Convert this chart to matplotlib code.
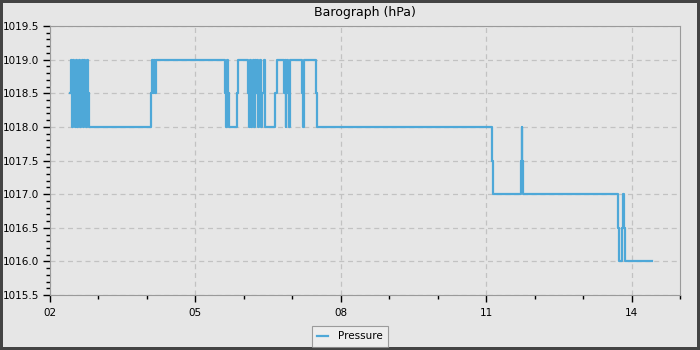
import matplotlib
matplotlib.use("Agg")
import matplotlib.pyplot as plt
import matplotlib.dates as mdates
from matplotlib.ticker import MultipleLocator
import pandas as pd

# readings: hour of day (decimal) and pressure in hPa
hours = [2.41, 2.43, 2.45, 2.47, 2.49, 2.52, 2.54, 2.56, 2.58, 2.60,
         2.62, 2.64, 2.66, 2.68, 2.70, 2.72, 2.74, 2.76, 2.78, 2.80,
         4.08, 4.10, 4.12, 4.14, 4.16, 4.18,
         5.61, 5.63, 5.65, 5.67, 5.69, 5.85, 5.87,
         6.08, 6.10, 6.12, 6.14, 6.16, 6.18, 6.20, 6.22, 6.24, 6.26,
         6.28, 6.30, 6.32, 6.34, 6.36, 6.38, 6.41, 6.43,
         6.65, 6.68,
         6.82, 6.84, 6.86, 6.88, 6.90, 6.92, 6.94, 6.96, 6.98,
         7.21, 7.23, 7.25, 7.48, 7.50,
         11.12, 11.14, 11.71, 11.73, 11.75, 11.76,
         13.73, 13.75, 13.80, 13.82, 13.84, 13.86, 14.42]
pressure = [1018.5, 1019.0, 1018.0, 1019.0, 1018.5, 1018.0, 1019.0, 1018.0, 1018.5, 1019.0,
            1018.0, 1018.5, 1019.0, 1018.0, 1019.0, 1018.5, 1018.0, 1019.0, 1018.5, 1018.0,
            1018.5, 1019.0, 1018.5, 1019.0, 1018.5, 1019.0,
            1018.5, 1018.0, 1019.0, 1018.5, 1018.0, 1018.5, 1019.0,
            1018.5, 1018.0, 1019.0, 1018.0, 1018.5, 1019.0, 1018.5, 1018.0, 1019.0, 1018.5,
            1019.0, 1018.0, 1018.5, 1019.0, 1018.0, 1018.5, 1019.0, 1018.0,
            1018.5, 1019.0,
            1018.5, 1019.0, 1018.0, 1018.5, 1019.0, 1018.5, 1018.0, 1019.0, 1019.0,
            1018.5, 1018.0, 1019.0, 1018.5, 1018.0,
            1017.5, 1017.0, 1017.5, 1018.0, 1017.5, 1017.0,
            1016.5, 1016.0, 1016.5, 1017.0, 1016.5, 1016.0, 1016.0]

day = pd.Timestamp("2024-01-01")
times = [day + pd.Timedelta(hours=h) for h in hours]

bg = "#e6e6e6"
fig = plt.figure(figsize=(7, 3.5), dpi=100, facecolor=bg,
                 edgecolor="#444444", linewidth=3)
ax = fig.add_axes([0.0714, 0.157, 0.9, 0.7686], facecolor=bg)

ax.plot(times, pressure, drawstyle="steps-post", color="#4ea8d8",
        linewidth=1.6, label="Pressure")

ax.set_xlim(day + pd.Timedelta(hours=2), day + pd.Timedelta(hours=15))
ax.set_ylim(1015.5, 1019.5)
ax.xaxis.set_major_locator(mdates.HourLocator(byhour=[2, 5, 8, 11, 14]))
ax.xaxis.set_minor_locator(mdates.HourLocator())
ax.xaxis.set_major_formatter(mdates.DateFormatter("%H"))
ax.yaxis.set_major_locator(MultipleLocator(0.5))
ax.yaxis.set_minor_locator(MultipleLocator(0.1))
ax.yaxis.set_major_formatter(lambda v, p: f"{v:.1f}")

ax.grid(True, which="major", linestyle=(0, (4, 3)), color="#c2c2c2", linewidth=0.9)
ax.set_axisbelow(True)
for s in ax.spines.values():
    s.set_color("#9a9a9a")
ax.tick_params(which="major", length=5, width=1, color="black", labelsize=7.5, pad=3)
ax.tick_params(which="minor", length=3, width=1, color="black")
ax.tick_params(axis="x", pad=4)

ax.set_title("Barograph (hPa)", fontsize=9, pad=7)
leg = fig.legend(loc="upper center", bbox_to_anchor=(0.5, 0.068), fontsize=7.5,
                 frameon=True, fancybox=False, handlelength=1.0,
                 borderpad=0.5, handletextpad=1.0, borderaxespad=0,
                 facecolor="#f0f0f0", edgecolor="#888888")
leg.get_frame().set_linewidth(0.8)

fig.savefig("out.png", dpi=100, facecolor=bg, edgecolor="#444444")
